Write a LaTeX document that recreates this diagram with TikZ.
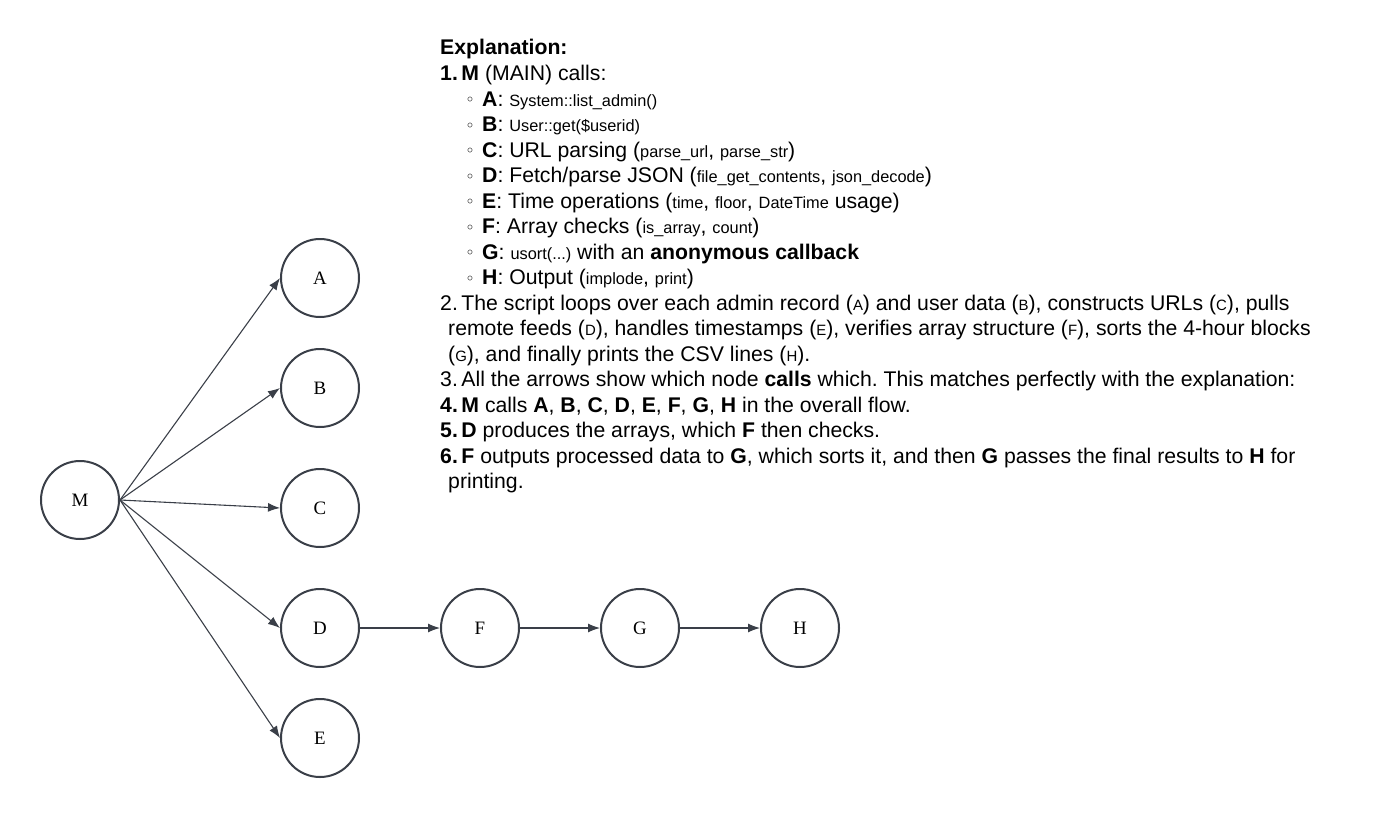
\documentclass[tikz,border=0pt]{standalone}
\usepackage{fontspec}
\setmainfont{Liberation Sans}
\newfontfamily\labelfont{Liberation Serif}
\usetikzlibrary{arrows.meta}
\frenchspacing
\definecolor{edgecol}{HTML}{3A3F48}
\newcommand{\cd}[1]{{\fontsize{16.4}{25.4}\selectfont #1}}
\newcommand{\tl}[1]{{\fontsize{15}{25.4}\selectfont #1}}
\newcommand{\bul}{\makebox[15bp][l]{\raisebox{3.2bp}{\fontsize{13}{25.4}\selectfont$\circ$}}}
\begin{document}
\begin{tikzpicture}[x=1bp,y=-1bp,>={Latex[length=12bp,width=9bp]},
  call/.style={circle, draw=edgecol, line width=2bp, minimum size=78bp, inner sep=0pt, font=\labelfont\fontsize{19}{22}\selectfont},
  link/.style={->, draw=edgecol, line width=1.1bp},
  line/.style={anchor=base west, inner sep=0pt, font=\fontsize{21.3}{25.4}\selectfont}]
  \useasboundingbox (0,0) rectangle (1380,820);
%%
  % Nodes
  \node [call] (M) at (80,500) {M};
  \node [call] (A) at (320,278) {A};
  \node [call] (B) at (320,388) {B};
  \node [call] (C) at (320,508) {C};
  \node [call] (D) at (320,628) {D};
  \node [call] (E) at (320,738) {E};
  \node [call] (F) at (480,628) {F};
  \node [call] (G) at (640,628) {G};
  \node [call] (H) at (800,628) {H};
  % Edges: M -- A..E
  \foreach \n in {A,B,C,D,E}
    \draw [link] (M.east) -- (\n.west);
  % Edges: D -- F -- G -- H
  \draw [link] (D) -- (F);
  \draw [link] (F) -- (G);
  \draw [link] (G) -- (H);
  % Explanation
  \node [line] (t0) at (440,55) {\textbf{Explanation:}};
  \node [line] (t1) at (440,80.5) {\textbf{1.\,M} (MAIN) calls:};
  \node [line] (t2) at (467,106) {\bul\textbf{A}: \cd{System::list\_admin()}};
  \node [line] (t3) at (467,131.5) {\bul\textbf{B}: \cd{User::get(\$userid)}};
  \node [line] (t4) at (467,157) {\bul\textbf{C}: URL parsing (\cd{parse\_url}, \cd{parse\_str})};
  \node [line] (t5) at (467,182.5) {\bul\textbf{D}: Fetch/parse JSON (\cd{file\_get\_contents}, \cd{json\_decode})};
  \node [line] (t6) at (467,208) {\bul\textbf{E}: Time operations (\cd{time}, \cd{floor}, \cd{DateTime} usage)};
  \node [line] (t7) at (467,233.5) {\bul\textbf{F}: Array checks (\cd{is\_array}, \cd{count})};
  \node [line] (t8) at (467,259) {\bul\textbf{G}: \cd{usort(...)} with an \textbf{anonymous callback}};
  \node [line] (t9) at (467,284.5) {\bul\textbf{H}: Output (\cd{implode}, \cd{print})};
  \node [line] (t10) at (440,310) {2.\,The script loops over each admin record (\tl{A}) and user data (\tl{B}), constructs URLs (\tl{C}), pulls};
  \node [line] (t11) at (448,335.5) {remote feeds (\tl{D}), handles timestamps (\tl{E}), verifies array structure (\tl{F}), sorts the 4-hour blocks};
  \node [line] (t12) at (448,361) {(\tl{G}), and finally prints the CSV lines (\tl{H}).};
  \node [line] (t13) at (440,386.5) {3.\,All the arrows show which node \textbf{calls} which. This matches perfectly with the explanation:};
  \node [line] (t14) at (440,412) {\textbf{4.\,M} calls \textbf{A}, \textbf{B}, \textbf{C}, \textbf{D}, \textbf{E}, \textbf{F}, \textbf{G}, \textbf{H} in the overall flow.};
  \node [line] (t15) at (440,437.5) {\textbf{5.\,D} produces the arrays, which \textbf{F} then checks.};
  \node [line] (t16) at (440,463) {\textbf{6.\,F} outputs processed data to \textbf{G}, which sorts it, and then \textbf{G} passes the final results to \textbf{H} for};
  \node [line] (t17) at (448,488.5) {printing.};
%
\end{tikzpicture}
\end{document}
